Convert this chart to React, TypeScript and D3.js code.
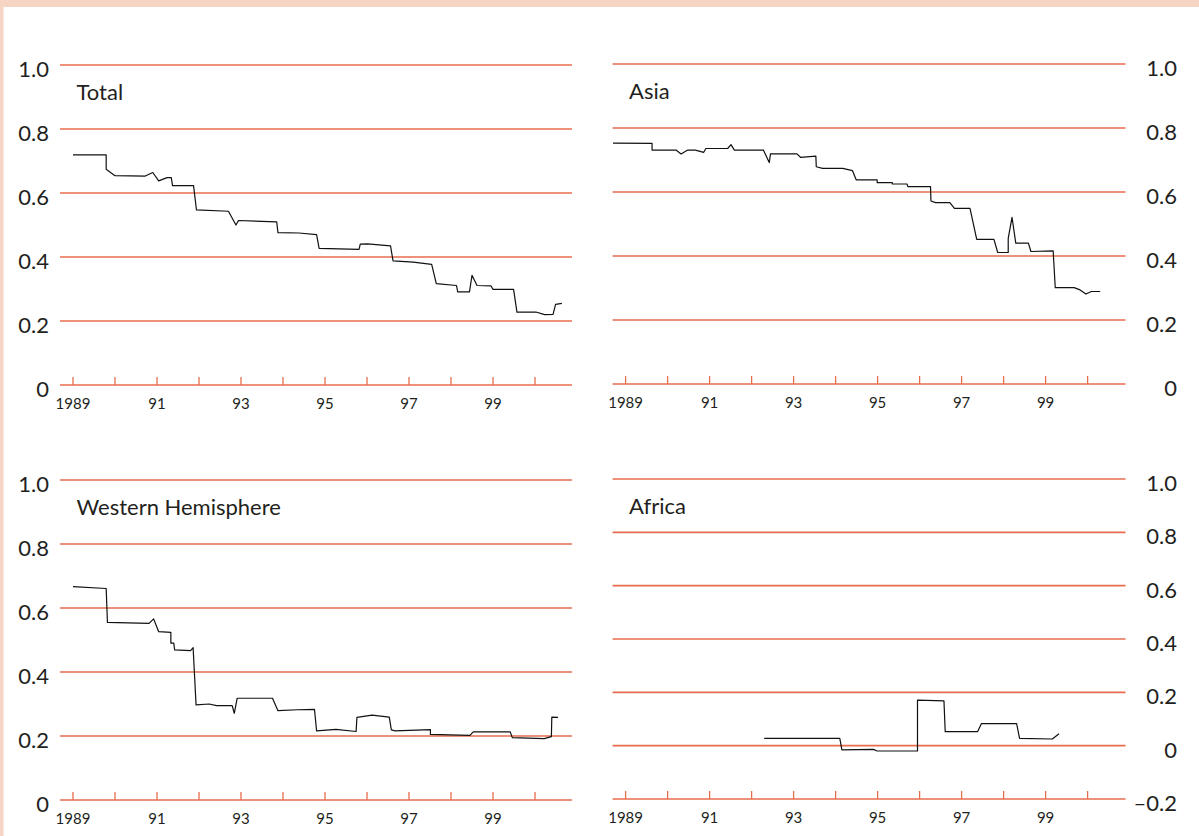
import React from 'react';
import { scaleLinear, line } from 'd3';

// year (fractional) / value pairs
const totalYears = [1989.0, 1989.79, 1989.79, 1990.0, 1990.72, 1990.9, 1991.04, 1991.24, 1991.34, 1991.37, 1991.87, 1991.94, 1992.7, 1992.88, 1992.94, 1993.85, 1993.88, 1994.38, 1994.8, 1994.86, 1995.81, 1995.84, 1996.01, 1996.56, 1996.62, 1997.1, 1997.54, 1997.65, 1998.13, 1998.16, 1998.44, 1998.5, 1998.62, 1998.95, 1999.0, 1999.49, 1999.57, 2000.02, 2000.23, 2000.43, 2000.49, 2000.64];
const totalValues = [0.719, 0.719, 0.674, 0.654, 0.653, 0.664, 0.638, 0.648, 0.648, 0.623, 0.623, 0.547, 0.543, 0.5, 0.514, 0.51, 0.476, 0.475, 0.47, 0.427, 0.424, 0.44, 0.441, 0.435, 0.388, 0.384, 0.377, 0.317, 0.311, 0.291, 0.291, 0.343, 0.311, 0.31, 0.299, 0.299, 0.228, 0.228, 0.22, 0.221, 0.252, 0.255];

const asiaYears = [1988.7, 1989.63, 1989.63, 1990.2, 1990.32, 1990.48, 1990.66, 1990.86, 1990.91, 1991.43, 1991.51, 1991.59, 1992.28, 1992.42, 1992.45, 1993.08, 1993.17, 1993.53, 1993.54, 1993.69, 1994.17, 1994.4, 1994.49, 1994.99, 1994.99, 1995.35, 1995.35, 1995.7, 1995.72, 1996.26, 1996.27, 1996.38, 1996.72, 1996.83, 1997.2, 1997.36, 1997.77, 1997.86, 1998.11, 1998.11, 1998.2, 1998.29, 1998.59, 1998.65, 1999.18, 1999.23, 1999.68, 1999.82, 1999.96, 2000.09, 2000.3];
const asiaValues = [0.753, 0.752, 0.731, 0.731, 0.719, 0.731, 0.731, 0.724, 0.736, 0.736, 0.748, 0.731, 0.731, 0.692, 0.719, 0.719, 0.708, 0.712, 0.679, 0.674, 0.674, 0.667, 0.638, 0.638, 0.629, 0.629, 0.625, 0.625, 0.617, 0.617, 0.572, 0.567, 0.567, 0.549, 0.549, 0.452, 0.452, 0.411, 0.411, 0.455, 0.521, 0.44, 0.44, 0.414, 0.416, 0.301, 0.301, 0.294, 0.281, 0.289, 0.289];

const westYears = [1989.0, 1989.79, 1989.82, 1990.81, 1990.92, 1991.04, 1991.33, 1991.33, 1991.4, 1991.42, 1991.8, 1991.86, 1991.93, 1992.24, 1992.42, 1992.79, 1992.84, 1992.91, 1993.75, 1993.88, 1994.34, 1994.75, 1994.8, 1995.26, 1995.74, 1995.76, 1996.12, 1996.53, 1996.58, 1996.67, 1997.51, 1997.51, 1998.45, 1998.53, 1999.41, 1999.46, 2000.22, 2000.39, 2000.4, 2000.55];
const westValues = [0.667, 0.661, 0.555, 0.552, 0.566, 0.526, 0.524, 0.49, 0.49, 0.469, 0.467, 0.476, 0.297, 0.3, 0.295, 0.295, 0.271, 0.318, 0.318, 0.279, 0.282, 0.283, 0.216, 0.221, 0.214, 0.258, 0.265, 0.259, 0.219, 0.216, 0.22, 0.205, 0.202, 0.213, 0.213, 0.195, 0.192, 0.198, 0.259, 0.258];

const africaYears = [1992.3, 1994.1, 1994.15, 1994.9, 1994.99, 1995.95, 1995.95, 1996.58, 1996.61, 1997.38, 1997.47, 1998.31, 1998.38, 1999.16, 1999.32];
const africaValues = [0.0275, 0.0275, -0.016, -0.014, -0.02, -0.02, 0.171, 0.168, 0.0525, 0.0525, 0.0825, 0.0825, 0.0275, 0.025, 0.045];

const tickYears = [1989, 1990, 1991, 1992, 1993, 1994, 1995, 1996, 1997, 1998, 1999, 2000];
const yearLabels = ['1989', '', '91', '', '93', '', '95', '', '97', '', '99', ''];
const yTicks = [0, 0.2, 0.4, 0.6, 0.8, 1.0];
const africaYTicks = [-0.2, 0, 0.2, 0.4, 0.6, 0.8, 1.0];

const GRID = '#e76d4e';
const FONT = 'Lato, "Open Sans", sans-serif';

const fmt = (v) => {
  if (Math.abs(v) < 1e-9) return '0';
  if (v < 0) return '\u2013' + Math.abs(v).toFixed(1);
  return v.toFixed(1);
};

function Panel({ title, years, values, x0, x1, yBottom, yTop, ticks, right }) {
  const x = scaleLinear().domain([1989, 2000]).range([x0 + 13, x0 + 13 + 11 * 42]);
  const y = scaleLinear().domain([ticks[0], ticks[ticks.length - 1]]).range([yBottom, yTop]);
  const pts = years.map((yr, i) => [yr, values[i]]);
  const path = line()
    .x((d) => x(d[0]))
    .y((d) => y(d[1]))(pts);
  const base = ticks[0];
  return (
    <g>
      {ticks.map((t) => (
        <g key={t}>
          <line x1={x0} x2={x1} y1={y(t)} y2={y(t)} stroke={GRID} strokeWidth={1.6} />
          <text
            x={right ? 1177 : 49}
            y={y(t) + 12}
            textAnchor="end"
            fontSize={22}
            fontFamily={FONT}
            fill="#231f20"
          >
            {fmt(t)}
          </text>
        </g>
      ))}
      {tickYears.map((yr, i) => (
        <g key={yr}>
          <line x1={x(yr)} x2={x(yr)} y1={y(base)} y2={y(base) - 8} stroke={GRID} strokeWidth={1.3} />
          {yearLabels[i] && (
            <text x={x(yr)} y={y(base) + 24} textAnchor="middle" fontSize={15} fontFamily={FONT} fill="#231f20">
              {yearLabels[i]}
            </text>
          )}
        </g>
      ))}
      <text x={x0 + 16.5} y={y(ticks[ticks.length - 1]) + 34.5} fontSize={22} fontFamily={FONT} fill="#231f20">
        {title}
      </text>
      <path d={path} fill="none" stroke="#111" strokeWidth={1.2} strokeLinejoin="round" />
    </g>
  );
}

export default function App() {
  return (
    <svg width={1199} height={836} style={{ position: 'absolute', left: 0, top: 0, background: '#fff' }}>
      <rect x={0} y={0} width={1199} height={836} fill="#fff" />
      <rect x={0} y={0} width={1199} height={7} fill="#f7d5c4" />
      <rect x={0} y={0} width={3.5} height={836} fill="#f7d5c4" />
      <Panel title="Total" years={totalYears} values={totalValues} x0={60} x1={572} yBottom={385} yTop={65} ticks={yTicks} />
      <Panel title="Asia" years={asiaYears} values={asiaValues} x0={612.6} x1={1125.5} yBottom={384} yTop={64} ticks={yTicks} right />
      <Panel title="Western Hemisphere" years={westYears} values={westValues} x0={60} x1={572} yBottom={800} yTop={480} ticks={yTicks} />
      <Panel title="Africa" years={africaYears} values={africaValues} x0={612.6} x1={1125.5} yBottom={799} yTop={479} ticks={africaYTicks} right />
    </svg>
  );
}
